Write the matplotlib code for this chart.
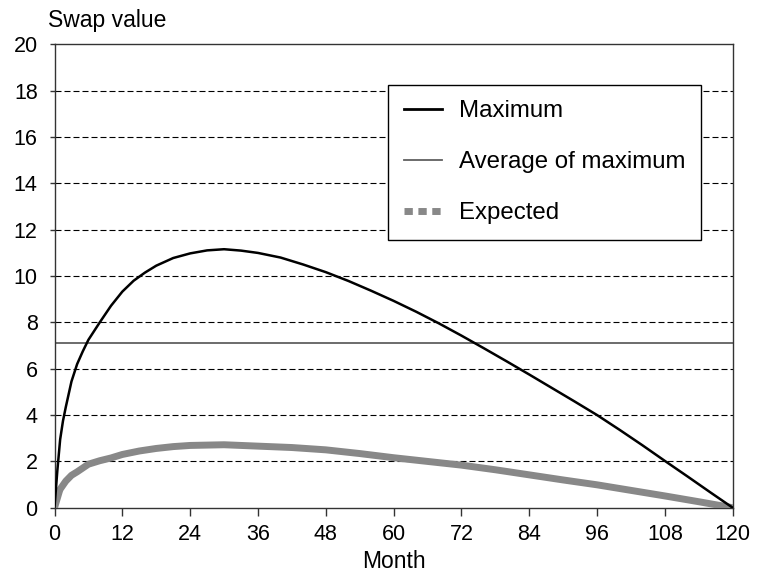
import matplotlib.pyplot as plt
from matplotlib.lines import Line2D

plt.rcParams['font.family'] = ['Liberation Sans', 'DejaVu Sans']

# Monat und Werte
months_max = [0, 0.5, 1, 1.5, 2, 3, 4, 5, 6, 8, 10, 12, 14, 16, 18, 21, 24, 27, 30, 33, 36,
              40, 44, 48, 52, 56, 60, 64, 68, 72, 76, 80, 84, 88, 92, 96, 100, 104,
              108, 112, 116, 120]
maximum = [0, 1.6, 2.95, 3.75, 4.35, 5.45, 6.2, 6.75, 7.25, 8.0, 8.72, 9.33, 9.8, 10.15,
           10.45, 10.78, 10.98, 11.11, 11.16, 11.1, 11.0, 10.8, 10.5, 10.17, 9.79, 9.37,
           8.93, 8.46, 7.96, 7.43, 6.88, 6.32, 5.75, 5.17, 4.59, 4.0, 3.36, 2.7, 2.02,
           1.35, 0.67, 0]

months_exp = [0, 0.85, 1, 2, 3, 4, 6, 8, 10, 12, 15, 18, 21, 24, 30, 36, 42, 48,
              54, 60, 66, 72, 78, 84, 90, 96, 102, 108, 114, 120]
expected = [0, 0.7, 0.8, 1.15, 1.4, 1.55, 1.88, 2.03, 2.15, 2.3, 2.45, 2.56, 2.64, 2.69,
            2.72, 2.66, 2.6, 2.5, 2.34, 2.16, 2.0, 1.84, 1.64, 1.42, 1.2, 0.99,
            0.75, 0.51, 0.26, 0]

avg_months = [0, 120]
avg_max = [7.1, 7.1]

labels = ['Maximum', 'Average of maximum', 'Expected']

fig = plt.figure(figsize=(7.57, 5.77), dpi=100)
ax = fig.add_axes([0.072, 0.120, 0.896, 0.803])

# Gitterlinien
for yv in range(2, 20, 2):
    ax.axhline(yv, color='black', linestyle=(0, (5.4, 2.7)), linewidth=0.8, zorder=1)

ax.plot(avg_months, avg_max, color='#606060', linewidth=1.3, zorder=2)
ax.plot(months_exp, expected, color='#888888', linewidth=5, solid_capstyle='butt', zorder=3)
ax.plot(months_max, maximum, color='black', linewidth=1.8, zorder=4)

ax.set_xlim(0, 120)
ax.set_ylim(0, 20)
ax.set_xticks(range(0, 121, 12))
ax.set_yticks(range(0, 21, 2))
ax.tick_params(axis='both', direction='out', labelsize=15.5, width=1, color='#333333')
ax.tick_params(axis='x', length=6, pad=6)
ax.tick_params(axis='y', length=3.6, pad=8.5)
for s in ax.spines.values():
    s.set_color('#333333')
    s.set_linewidth(1)

ax.set_xlabel('Month', fontsize=16.5, labelpad=3)
fig.text(0.063, 0.964, 'Swap value', fontsize=16.5, ha='left', va='center')

handles = [
    Line2D([], [], color='black', linewidth=2),
    Line2D([], [], color='#606060', linewidth=1.3),
    Line2D([], [], color='#888888', linewidth=5, linestyle=(0, (1.2, 0.8))),
]
leg = ax.legend(handles, labels, loc='upper left', bbox_to_anchor=(0.5125, 0.853),
                bbox_transform=fig.transFigure, borderaxespad=0, fontsize=17.3,
                frameon=True, fancybox=False, edgecolor='black', framealpha=1,
                handlelength=1.6, handletextpad=0.7, labelspacing=1.2,
                borderpad=0.65)
leg.get_frame().set_linewidth(1)

fig.savefig('out.png', dpi=100)
